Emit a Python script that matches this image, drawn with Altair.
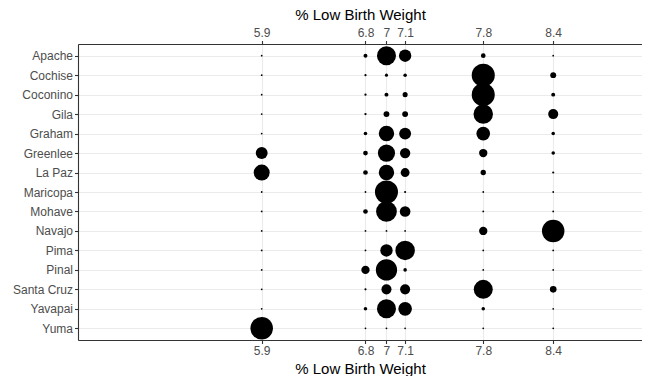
import altair as alt
import pandas as pd

counties = ["Apache", "Cochise", "Coconino", "Gila", "Graham", "Greenlee", "La Paz",
            "Maricopa", "Mohave", "Navajo", "Pima", "Pinal", "Santa Cruz", "Yavapai", "Yuma"]

# x positions (% low birth weight) of the six columns
lbw_levels = [5.9, 6.79, 6.97, 7.13, 7.8, 8.4]

# bubble weights per county for each column (area-proportional)
n_59 = [1, 1, 1, 1, 1, 45, 81, 1, 1, 1, 1, 1, 1, 1, 161]
n_68 = [5, 1.5, 1.7, 1.7, 4, 7, 7, 1, 7, 1, 1, 22, 1.5, 4, 1]
n_70 = [115, 3, 5, 11, 76, 94, 76, 169, 137, 1, 49, 144, 32, 115, 1]
n_71 = [49, 4, 8, 11, 45, 34, 25, 1.5, 36, 1, 121, 4, 32, 59, 1]
n_78 = [7, 169, 169, 121, 59, 22, 9, 1, 1, 22, 1, 1, 115, 4, 1]
n_84 = [1, 11, 5, 32, 4, 4, 1.5, 1, 1, 161, 1, 1, 14, 1, 1]

columns = [n_59, n_68, n_70, n_71, n_78, n_84]
rows = []
for lvl, col in zip(lbw_levels, columns):
    for c, n in zip(counties, col):
        rows.append({"county": c, "lbw": lvl, "n": n})
df = pd.DataFrame(rows)

FONT = "Liberation Sans"
x_dom = [4.3245, 9.1615]

x_scale = alt.Scale(domain=x_dom, nice=False, zero=False)
y_scale = alt.Scale(type="point", padding=0.6, domain=counties)
size_scale = alt.Scale(type="linear", domain=[0, 169], range=[0, 531], zero=True)

axis_common = dict(
    values=lbw_levels, format=".2~r", labelFont=FONT, labelFontSize=12,
    labelColor="#4d4d4d", titleFont=FONT, titleFontSize=15, titleColor="#000000",
    titleFontWeight="normal", tickColor="#333333", tickSize=3.5, tickWidth=1.1,
    domain=True, domainColor="#333333", domainWidth=1.1,
)

y_axis = alt.Axis(title=None, grid=True, gridColor="#ebebeb", gridWidth=1.1,
                  labelFont=FONT, labelFontSize=12, labelColor="#4d4d4d",
                  tickColor="#333333", tickSize=3.5, tickWidth=1.1,
                  labelPadding=2, domain=True, domainColor="#333333", domainWidth=1.1)

base = alt.Chart(df)

bottom = base.mark_circle(color="black", opacity=1).encode(
    x=alt.X("lbw:Q", scale=x_scale,
            axis=alt.Axis(orient="bottom", title="% Low Birth Weight", grid=True,
                          gridColor="#ebebeb", gridWidth=1.1, labelPadding=2,
                          titlePadding=5, **axis_common)),
    y=alt.Y("county:N", scale=y_scale, sort=counties, axis=y_axis),
    size=alt.Size("n:Q", scale=size_scale, legend=None),
)

top = base.mark_circle(opacity=0).encode(
    x=alt.X("lbw:Q", scale=x_scale,
            axis=alt.Axis(orient="top", title="% Low Birth Weight", grid=False,
                          labelPadding=1, titlePadding=4, **axis_common)),
    y=alt.Y("county:N", scale=y_scale, sort=counties, axis=y_axis),
)

chart = alt.layer(bottom, top).resolve_axis(x="independent").properties(
    width=564, height=296,
    autosize=alt.AutoSizeParams(type="none"),
    padding={"left": 70, "top": 36, "right": 0, "bottom": 36},
).configure_view(stroke=None).configure(background="white")

chart.save("out.html", embed_options={"renderer": "svg", "actions": False})
